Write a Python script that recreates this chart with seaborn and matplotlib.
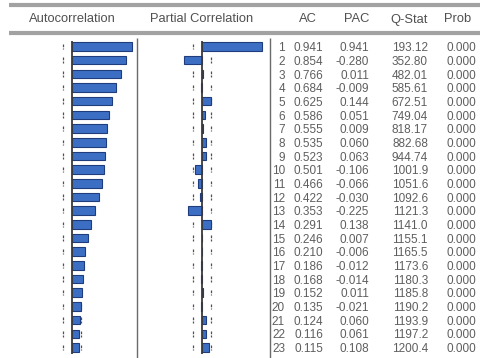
import numpy as np
import pandas as pd
import matplotlib
matplotlib.use("Agg")
import matplotlib.pyplot as plt
from matplotlib.transforms import blended_transform_factory
import seaborn as sns

# Correlogram of the series: 23 lags, 215 observations
n_obs = 215
lags = list(range(1, 24))
ac = [0.941, 0.854, 0.766, 0.684, 0.625, 0.586, 0.555, 0.535, 0.523, 0.501,
      0.466, 0.422, 0.353, 0.291, 0.246, 0.210, 0.186, 0.168, 0.152, 0.135,
      0.124, 0.116, 0.115]
pac = [0.941, -0.280, 0.011, -0.009, 0.144, 0.051, 0.009, 0.060, 0.063, -0.106,
       -0.066, -0.030, -0.225, 0.138, 0.007, -0.006, -0.012, -0.014, 0.011, -0.021,
       0.060, 0.061, 0.108]
q_stat = [193.12, 352.80, 482.01, 585.61, 672.51, 749.04, 818.17, 882.68, 944.74, 1001.9,
          1051.6, 1092.6, 1121.3, 1141.0, 1155.1, 1165.5, 1173.6, 1180.3, 1185.8, 1190.2,
          1193.9, 1197.2, 1200.4]
prob = [0.000] * 23
headers = ["Autocorrelation", "Partial Correlation", "AC", "PAC", "Q-Stat", "Prob"]

df = pd.DataFrame({"lag": [str(l) for l in lags], "ac": ac, "pac": pac})
band = 2 / np.sqrt(n_obs)

W, H = 481, 358
sns.set_theme(style="white")
plt.rcParams["font.family"] = ["Liberation Sans", "DejaVu Sans"]

fig = plt.figure(figsize=(W / 100, H / 100), dpi=100)
fig.patch.set_facecolor("white")

# pixel layout helpers
row0, row_step = 46.5, 13.68
px_per_unit = 63.8
top_px = 36


def make_panel(x0, x1, zero_px):
    ax = fig.add_axes([x0 / W, 0, (x1 - x0) / W, (H - top_px) / H])
    ax.set_xlim((x0 - zero_px) / px_per_unit, (x1 - zero_px) / px_per_unit)
    ax.set_axis_off()
    return ax


ax_ac = make_panel(0, 137, 72)
ax_pac = make_panel(137, 270, 202)

bar_kw = dict(orient="h", color="#3c6fc4", saturation=1, width=0.62,
              edgecolor="#1f3c7c", linewidth=0.8, zorder=3)
sns.barplot(data=df, x="ac", y="lag", ax=ax_ac, **bar_kw)
sns.barplot(data=df, x="pac", y="lag", ax=ax_pac, **bar_kw)

ylim = ((H - row0) / row_step, (top_px - row0) / row_step)
for ax in (ax_ac, ax_pac):
    ax.set_ylim(ylim)
    ax.set_axis_off()
    pos = np.arange(len(lags))
    # +/- 2 standard-error bands, a short dash per lag
    for s in (-band, band):
        ax.vlines([s] * len(pos), pos - 0.2, pos + 0.2, color="#505050",
                  lw=0.9, linestyles=(0, (2.2, 1.0)), zorder=1)
    ax.vlines(0, -0.42, len(pos) - 0.55, color="#3a3a3a", lw=1.3, zorder=4)

# overlay for header rules, panel separators and table text
ov = fig.add_axes([0, 0, 1, 1])
ov.set_xlim(0, W)
ov.set_ylim(H, 0)
ov.set_axis_off()
ov.patch.set_alpha(0)

ov.hlines([5, 33], 9, W, color="#a2a2a2", lw=3.0)
ov.vlines([137, 270], 38, H, color="#6a6a6a", lw=1.0)

hdr_kw = dict(ha="center", va="center", fontsize=9.3, color="#505050")
for txt, xc in zip(headers, [72, 202, 308, 357, 409, 458]):
    ov.text(xc, 19.5, txt, **hdr_kw)

tr = blended_transform_factory(ov.transData, ax_ac.transData)
num_kw = dict(ha="right", va="center", fontsize=8.5, color="#5e5e5e", transform=tr)
for i in range(len(lags)):
    ov.text(285, i + 0.12, f"{lags[i]}", **num_kw)
    ov.text(323, i + 0.12, f"{ac[i]:.3f}", **num_kw)
    ov.text(369, i + 0.12, f"{pac[i]:.3f}", **num_kw)
    q = q_stat[i]
    ov.text(428, i + 0.12, f"{q:.1f}" if q >= 1000 else f"{q:.2f}", **num_kw)
    ov.text(476, i + 0.12, f"{prob[i]:.3f}", **num_kw)

fig.savefig("out.png", dpi=100, facecolor="white")
